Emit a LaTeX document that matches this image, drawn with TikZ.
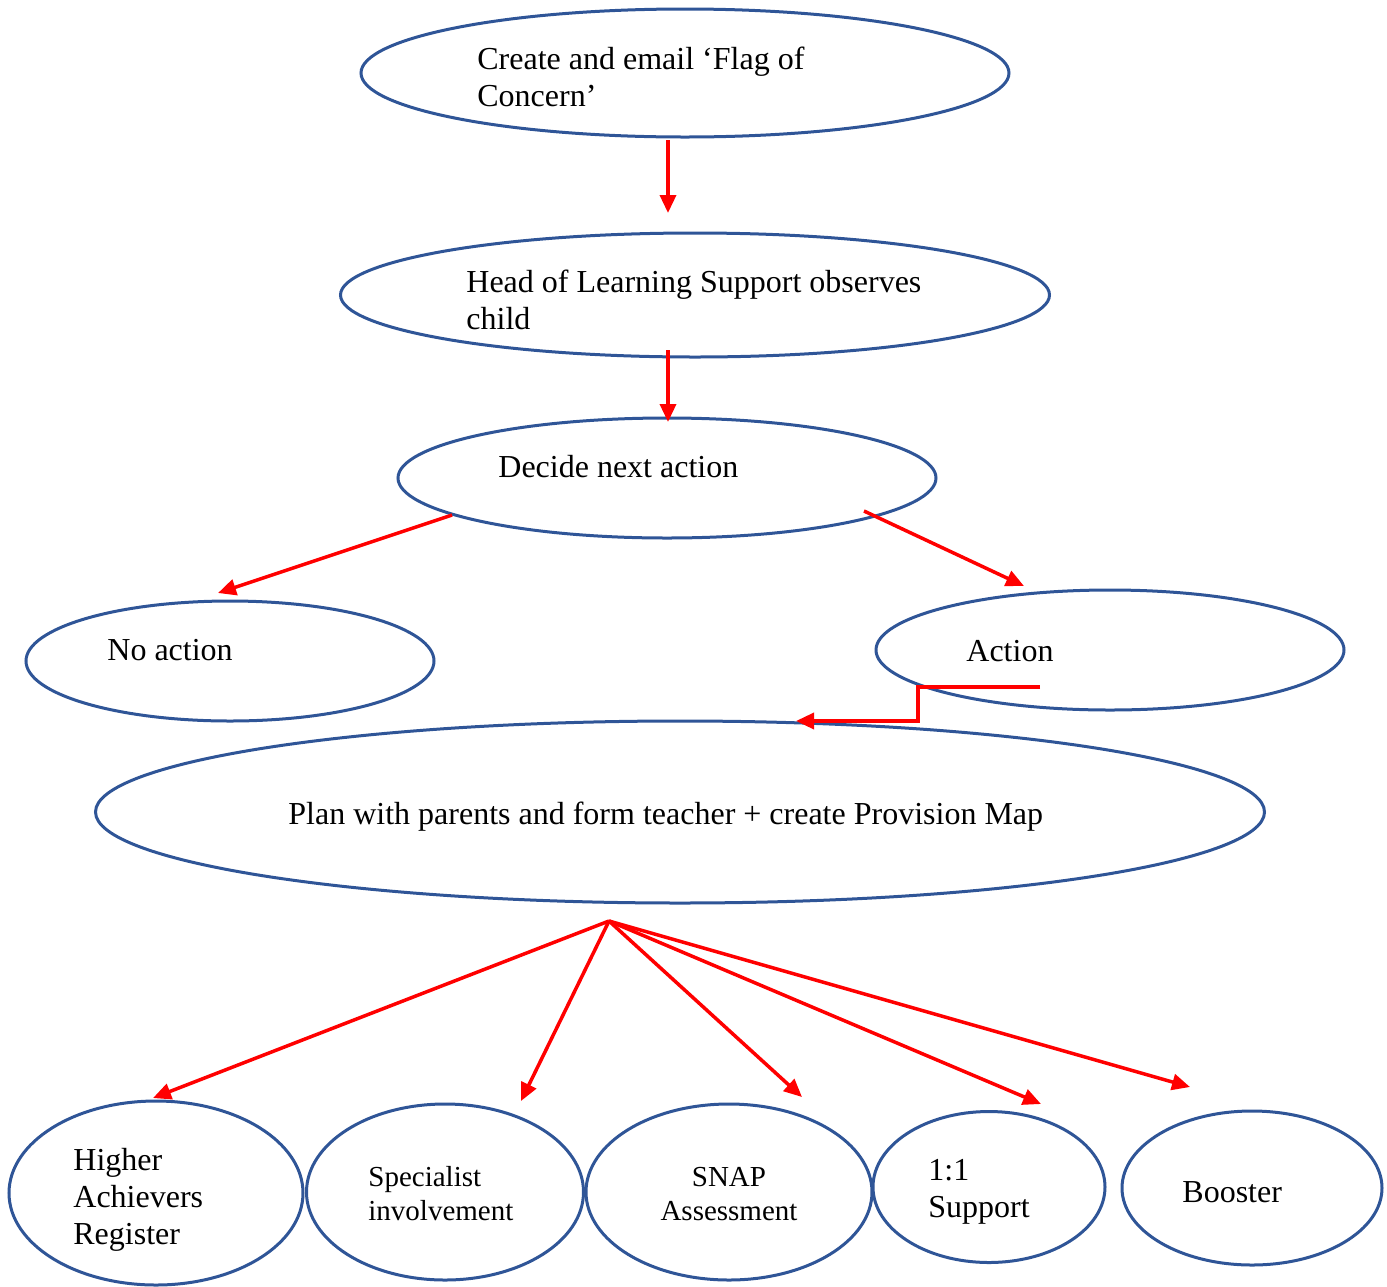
\documentclass[tikz,border=0pt]{standalone}
\usepackage{fontspec}
\setmainfont{Liberation Serif}
\usetikzlibrary{shapes.geometric,arrows.meta}
\definecolor{eblue}{HTML}{2F5597}
\begin{document}
\begin{tikzpicture}[x=0.5pt,y=-0.5pt,
 ell/.style={ellipse,draw=eblue,line width=1.5pt,inner sep=0pt},
 lbl/.style={anchor=west,align=left,font=\fontsize{16}{18.4}\selectfont,inner sep=0pt},
 lbls/.style={anchor=west,align=left,font=\fontsize{14.5}{17}\selectfont,inner sep=0pt},
 arr/.style={draw=red,line width=1.75pt,-{Triangle[length=9pt,width=8pt]}}]
\useasboundingbox (0,0) rectangle (1387,1286);
% ellipses
\node[ell,minimum width=324pt,minimum height=64pt] (e1) at (685,73) {};
\node[ell,minimum width=354.5pt,minimum height=62pt] (e2) at (695,295) {};
\node[ell,minimum width=269pt,minimum height=60pt] (e3) at (667,478) {};
\node[ell,minimum width=204pt,minimum height=60pt] (e4) at (230,661) {};
\node[ell,minimum width=234pt,minimum height=60pt] (e5) at (1110,650) {};
\node[ell,minimum width=584.5pt,minimum height=91pt] (e6) at (680,812) {};
\node[ell,minimum width=147pt,minimum height=92pt] (e7) at (156,1193) {};
\node[ell,minimum width=138.5pt,minimum height=88pt] (e8) at (445,1192) {};
\node[ell,minimum width=143pt,minimum height=88pt] (e9) at (729,1192) {};
\node[ell,minimum width=116pt,minimum height=75.5pt] (e10) at (989,1187) {};
\node[ell,minimum width=130pt,minimum height=77pt] (e11) at (1252,1188) {};
% texts
\node[lbl] (t1) at (477,77) {Create and email ‘Flag of\\Concern’};
\node[lbl] (t2) at (466,300) {Head of Learning Support observes\\child};
\node[lbl] (t3) at (498,467) {Decide next action};
\node[lbl] (t4) at (107,650) {No action};
\node[lbl] (t5) at (966,651) {Action};
\node[lbl] (t6) at (288,817) {Plan with parents and form teacher + create Provision Map};
\node[lbl] (t7) at (73,1200) {Higher\\Achievers\\Register};
\node[lbls] (t8) at (368,1194) {Specialist\\involvement};
\node[lbls,anchor=center,align=center] (t9) at (729,1194) {SNAP\\Assessment};
\node[lbl] (t10) at (928,1192) {1:1\\Support};
\node[lbl] (t11) at (1182,1192) {Booster};
% connector points
\coordinate (a1s) at (668,140);
\coordinate (a1e) at (668,213);
\coordinate (a2s) at (668,350);
\coordinate (a2e) at (668,422);
\coordinate (a3s) at (452,515);
\coordinate (a3e) at (218,593);
\coordinate (a4s) at (864,511);
\coordinate (a4e) at (1024,586);
\coordinate (a5s) at (1040,687);
\coordinate (a5m1) at (918,687);
\coordinate (a5m2) at (918,721);
\coordinate (a5e) at (796,721);
\coordinate (fan) at (609,921);
\coordinate (f1) at (153,1098);
\coordinate (f2) at (521,1101);
\coordinate (f3) at (802,1097);
\coordinate (f4) at (1041,1104);
\coordinate (f5) at (1190,1087);
% arrows
\draw[arr] (a1s) -- (a1e);
\draw[arr] (a2s) -- (a2e);
\draw[arr] (a3s) -- (a3e);
\draw[arr] (a4s) -- (a4e);
\draw[arr] (a5s) -- (a5m1) -- (a5m2) -- (a5e);
\draw[arr] (fan) -- (f1);
\draw[arr] (fan) -- (f2);
\draw[arr] (fan) -- (f3);
\draw[arr] (fan) -- (f4);
\draw[arr] (fan) -- (f5);
\end{tikzpicture}
\end{document}
